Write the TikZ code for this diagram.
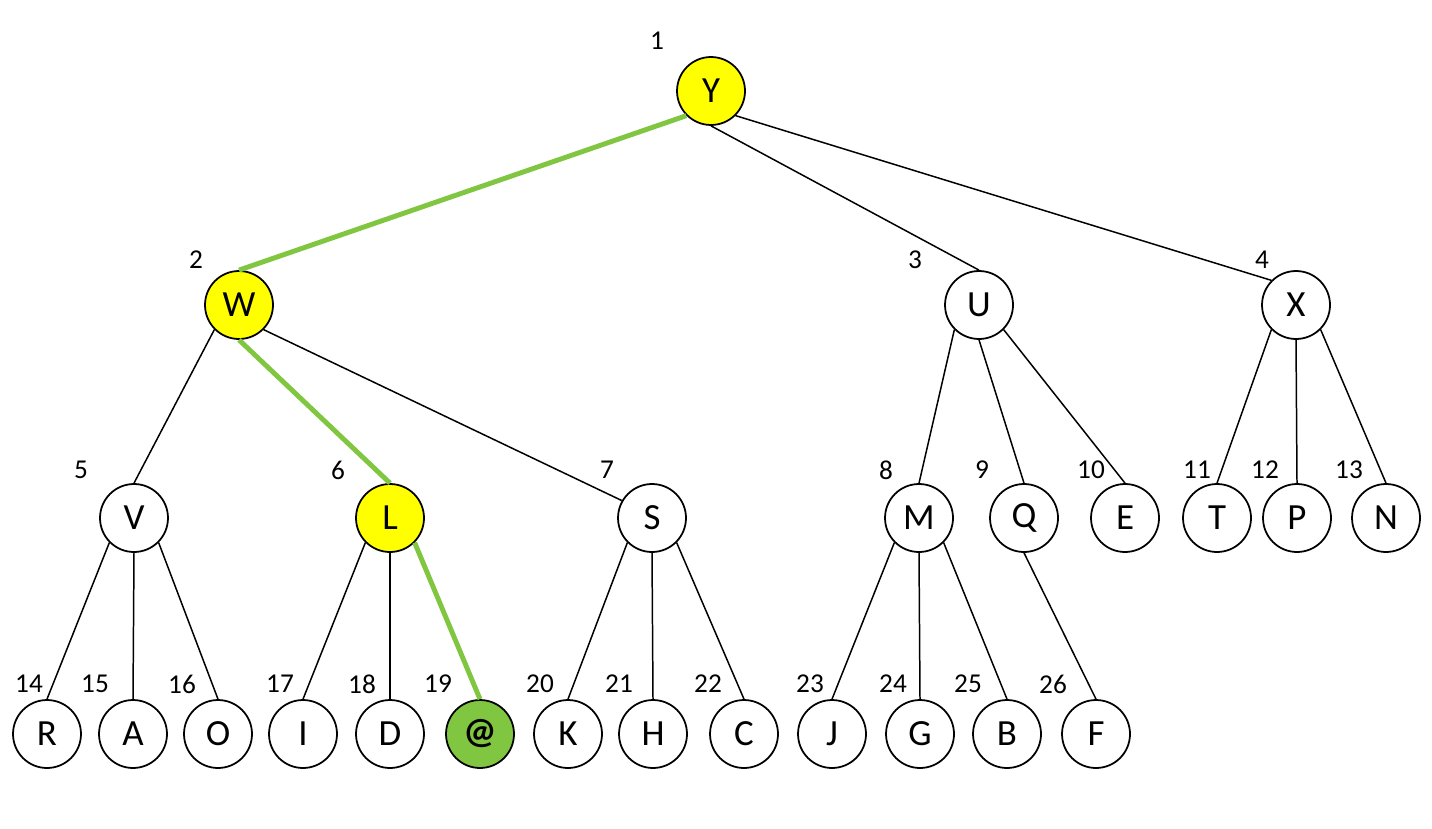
\documentclass[tikz,border=0pt]{standalone}
\usepackage{fontspec}
\setmainfont{Carlito}
\usepackage{tikz}

\definecolor{pathyellow}{RGB}{255,255,0}
\definecolor{pathgreen}{RGB}{128,198,65}

\tikzset{
  vertex/.style={circle, draw, line width=1pt, minimum size=1.36cm, inner sep=0pt, font=\fontsize{21}{21}\selectfont},
  visited/.style={vertex, fill=pathyellow},
  goal/.style={vertex, fill=pathgreen, font=\fontsize{21}{21}\selectfont\bfseries},
  order/.style={font=\fontsize{15.5}{15.5}\selectfont},
  edge/.style={line width=0.85pt},
  hit/.style={line width=2.8pt, pathgreen}
}

\begin{document}
\begin{tikzpicture}[x=0.02cm, y=-0.02cm]

        \useasboundingbox (0,0) rectangle (1432,828);

        % level 0 and 1
        \node[visited] (Y) at (711,91) {Y};
        \node[visited] (W) at (239,305) {W};
        \node[vertex] (U) at (979,305) {U};
        \node[vertex] (X) at (1296,305) {X};

        % level 2
        \node[vertex] (V) at (134,518) {V};
        \node[visited] (L) at (390,518) {L};
        \node[vertex] (S) at (652,518) {S};
        \node[vertex] (M) at (919,518) {M};
        \node[vertex] (Q) at (1024,518) {Q};
        \node[vertex] (E) at (1125,518) {E};
        \node[vertex] (T) at (1217,518) {T};
        \node[vertex] (P) at (1297,518) {P};
        \node[vertex] (N) at (1386,518) {N};

        % level 3
        \node[vertex] (R) at (47,734) {R};
        \node[vertex] (A) at (133,734) {A};
        \node[vertex] (O) at (218,734) {O};
        \node[vertex] (I) at (303,734) {I};
        \node[vertex] (D) at (390,734) {D};
        \node[goal] (at) at (480,734) {@};
        \node[vertex] (K) at (568,734) {K};
        \node[vertex] (H) at (653,734) {H};
        \node[vertex] (C) at (744,734) {C};
        \node[vertex] (J) at (832,734) {J};
        \node[vertex] (G) at (920,734) {G};
        \node[vertex] (B) at (1007,734) {B};
        \node[vertex] (F) at (1096,734) {F};

        % visiting order
        \node[order] (n1) at (657,41) {1};
        \node[order] (n2) at (196,260) {2};
        \node[order] (n3) at (915,260) {3};
        \node[order] (n4) at (1262,260) {4};
        \node[order] (n5) at (81,470) {5};
        \node[order] (n6) at (338,470) {6};
        \node[order] (n7) at (607,470) {7};
        \node[order] (n8) at (886,470) {8};
        \node[order] (n9) at (982,470) {9};
        \node[order] (n10) at (1091,470) {10};
        \node[order] (n11) at (1197,470) {11};
        \node[order] (n12) at (1265,470) {12};
        \node[order] (n13) at (1349,470) {13};
        \node[order] (n14) at (29,684) {14};
        \node[order] (n15) at (95,684) {15};
        \node[order] (n16) at (182,684) {16};
        \node[order] (n17) at (280,684) {17};
        \node[order] (n18) at (362,684) {18};
        \node[order] (n19) at (438,684) {19};
        \node[order] (n20) at (540,684) {20};
        \node[order] (n21) at (619,684) {21};
        \node[order] (n22) at (708,684) {22};
        \node[order] (n23) at (810,684) {23};
        \node[order] (n24) at (893,684) {24};
        \node[order] (n25) at (968,684) {25};
        \node[order] (n26) at (1053,684) {26};

        % tree edges
        \draw[edge] (Y.south) -- (U.north);
        \draw[edge] (Y.south east) -- (X.north west);
        \draw[edge] (W.south west) -- (V.north);
        \draw[edge] (W.south east) -- (S.150);
        \draw[edge] (U.south west) -- (M.north);
        \draw[edge] (U.south) -- (Q.north);
        \draw[edge] (U.south east) -- (E.north);
        \draw[edge] (X.south west) -- (T.north);
        \draw[edge] (X.south) -- (P.north);
        \draw[edge] (X.south east) -- (N.north);
        \draw[edge] (V.south west) -- (R.north);
        \draw[edge] (V.south) -- (A.north);
        \draw[edge] (V.south east) -- (O.north);
        \draw[edge] (L.south west) -- (I.north);
        \draw[edge] (L.south) -- (D.north);
        \draw[edge] (S.south west) -- (K.north);
        \draw[edge] (S.south) -- (H.north);
        \draw[edge] (S.south east) -- (C.north);
        \draw[edge] (M.south west) -- (J.north);
        \draw[edge] (M.south) -- (G.north);
        \draw[edge] (M.south east) -- (B.north);
        \draw[edge] (Q.south) -- (F.north);

        % path to the goal
        \draw[hit] (Y.south west) -- (W.north);
        \draw[hit] (W.south) -- (L.north);
        \draw[hit] (L.south east) -- (at.north);

      \end{tikzpicture}
\end{document}
